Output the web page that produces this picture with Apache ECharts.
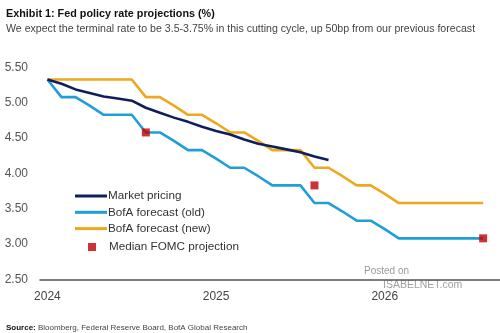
<!DOCTYPE html>
<html>
<head>
<meta charset="utf-8">
<script src="https://cdn.jsdelivr.net/npm/echarts@6/dist/echarts.min.js"></script>
<style>
html,body{margin:0;padding:0;background:#fff;}
#chart{width:500px;height:333px;}
</style>
</head>
<body>
<div id="chart"></div>
<script>
// Months since Jan 2024
var months = [0,1,2,3,4,5,6,7,8,9,10,11,12,13,14,15,16,17,18,19,20,21,22,23,24,25,26,27,28,29,30,31];
var marketPricing = [5.33,5.27,5.19,5.14,5.09,5.06,5.03,4.93,4.86,4.79,4.73,4.66,4.60,4.55,4.48,4.42,4.38,4.34,4.30,4.24,4.19];
var bofaOld = [5.33,5.08,5.08,4.96,4.83,4.83,4.83,4.58,4.58,4.46,4.33,4.33,4.21,4.08,4.08,3.96,3.83,3.83,3.83,3.58,3.58,3.46,3.33,3.33,3.21,3.08,3.08,3.08,3.08,3.08,3.08,3.08];
var bofaNew = [5.33,5.33,5.33,5.33,5.33,5.33,5.33,5.08,5.08,4.96,4.83,4.83,4.71,4.58,4.58,4.46,4.33,4.33,4.33,4.08,4.08,3.96,3.83,3.83,3.71,3.58,3.58,3.58,3.58,3.58,3.58,3.58];
var fomcMonths = [7, 19, 31];
var fomcValues = [4.58, 3.83, 3.08];
var xTickMonths = [0, 12, 24];
var xTickLabels = ['2024', '2025', '2026'];

function pairs(xs, ys) { return ys.map(function (v, i) { return [xs[i], v]; }); }

var FONT = 'Liberation Sans, Arial, sans-serif';
var chart = echarts.init(document.getElementById('chart'), null, {renderer: 'canvas'});
chart.setOption({
  animation: false,
  backgroundColor: '#ffffff',
  title: [
    {text: 'Exhibit 1: Fed policy rate projections (%)', left: 1, top: 4,
     textStyle: {fontFamily: FONT, fontWeight: 'bold', fontSize: 10.8, color: '#111'}},
    {text: 'We expect the terminal rate to be 3.5-3.75% in this cutting cycle, up 50bp from our previous forecast', left: 1, top: 19,
     textStyle: {fontFamily: FONT, fontWeight: 'normal', fontSize: 10.6, color: '#444'}},
    {text: '{b|Source:} Bloomberg, Federal Reserve Board, BofA Global Research', left: 1, top: 319,
     textStyle: {fontFamily: FONT, fontWeight: 'normal', fontSize: 8, color: '#444',
       rich: {b: {fontFamily: FONT, fontWeight: 'bold', fontSize: 8, color: '#111'}}}}
  ],
  grid: {left: 40, right: 0, top: 67.5, bottom: 53.7, containLabel: false},
  xAxis: {
    type: 'value', min: -0.53, max: 32.2,
    splitLine: {show: false},
    axisTick: {show: false},
    axisLine: {show: true, lineStyle: {color: '#555', width: 1.5}},
    axisLabel: {customValues: xTickMonths, margin: 11, fontFamily: FONT, fontSize: 12, color: '#444',
      formatter: function (v) { var i = xTickMonths.indexOf(v); return i >= 0 ? xTickLabels[i] : ''; }}
  },
  yAxis: {
    type: 'value', min: 2.5, max: 5.5, interval: 0.5,
    splitLine: {show: false},
    axisLine: {show: false},
    axisTick: {show: false},
    axisLabel: {margin: 12, fontFamily: FONT, fontSize: 12, color: '#555',
      formatter: function (v) { return v.toFixed(2); }}
  },
  legend: [
    {data: ['Market pricing', 'BofA forecast (old)', 'BofA forecast (new)'],
     orient: 'vertical', left: 75, top: 190, padding: 0, itemWidth: 32, itemHeight: 3, itemGap: 4.3, icon: 'rect',
     textStyle: {fontFamily: FONT, fontSize: 11.7, color: '#333', padding: [0, 0, 0, -4]}},
    {data: ['Median FOMC projection'], orient: 'vertical', left: 88, top: 241, padding: 0,
     itemWidth: 8, itemHeight: 8, icon: 'rect',
     textStyle: {fontFamily: FONT, fontSize: 11.7, color: '#333', padding: [0, 0, 0, 8]}}
  ],
  series: [
    {name: 'BofA forecast (new)', type: 'line', data: pairs(months, bofaNew), showSymbol: false, symbol: 'none',
     lineStyle: {color: '#eea81f', width: 2.6}, itemStyle: {color: '#eea81f'}, z: 2},
    {name: 'BofA forecast (old)', type: 'line', data: pairs(months, bofaOld), showSymbol: false, symbol: 'none',
     lineStyle: {color: '#1f9ed9', width: 2.6}, itemStyle: {color: '#1f9ed9'}, z: 2},
    {name: 'Market pricing', type: 'line', data: pairs(months, marketPricing), showSymbol: false, symbol: 'none',
     lineStyle: {color: '#0f1f5e', width: 2.6}, itemStyle: {color: '#0f1f5e'}, z: 3},
    {name: 'Median FOMC projection', type: 'scatter', data: pairs(fomcMonths, fomcValues), symbol: 'rect', symbolSize: 8,
     itemStyle: {color: '#c00000'}, z: 4}
  ],
  graphic: [
    {type: 'text', left: 364, top: 266, style: {text: 'Posted on', fontFamily: FONT, fontSize: 10, fill: '#9a9a9a'}},
    {type: 'text', left: 383, top: 280, style: {text: 'ISABELNET.com', fontFamily: FONT, fontSize: 10.5, fill: '#a0a0a0'}}
  ]
});
</script>
</body>
</html>
